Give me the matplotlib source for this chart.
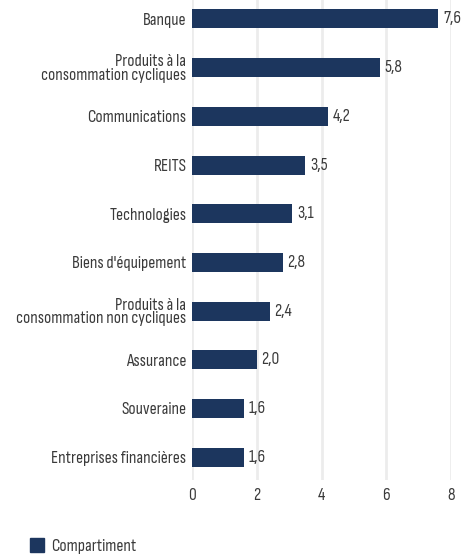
import matplotlib.pyplot as plt
from matplotlib.patches import Patch

categories = [
    "Banque",
    "Produits à la\nconsommation cycliques",
    "Communications",
    "REITS",
    "Technologies",
    "Biens d'équipement",
    "Produits à la\nconsommation non cycliques",
    "Assurance",
    "Souveraine",
    "Entreprises financières",
]
values = [7.6, 5.8, 4.2, 3.5, 3.1, 2.8, 2.4, 2.0, 1.6, 1.6]
xticks = [0, 2, 4, 6, 8]
series_name = "Compartiment"

NAVY = "#1c365e"
TEXT = "#3a3a3a"
FS = 12.5

plt.rcParams["font.family"] = ["Sofia Sans Condensed", "Roboto Condensed", "DejaVu Sans"]
plt.rcParams["font.weight"] = "light"

W, H = 471, 557
fig = plt.figure(figsize=(W / 100, H / 100), dpi=100)
ax = fig.add_axes([192 / W, 1 - 480 / H, (451 - 192) / W, 480 / H])

pos = list(range(len(categories)))
ax.barh(pos, values, height=0.39, color=NAVY, zorder=3)
for p, v in zip(pos, values):
    ax.text(v + 0.15, p, f"{v:.1f}".replace(".", ","), va="center", ha="left",
            fontsize=FS, color=TEXT)

ax.set_xlim(0, 8)
ax.set_ylim(9.47, -0.39)
ax.set_xticks(xticks)
ax.set_xticklabels([str(t) for t in xticks])
ax.set_yticks(pos)
ax.set_yticklabels(categories, linespacing=0.9)
ax.tick_params(axis="both", length=0, labelsize=FS, colors=TEXT)
ax.tick_params(axis="y", pad=4)
ax.tick_params(axis="x", pad=6)
ax.grid(axis="x", color="#ececec", linewidth=2, zorder=0)
for s in ax.spines.values():
    s.set_visible(False)

fig.legend(handles=[Patch(color=NAVY, label=series_name)], loc="lower left",
           bbox_to_anchor=(14 / W, -0.022), frameon=False, fontsize=FS,
           handlelength=0.85, handleheight=0.85, handletextpad=0.4,
           labelcolor=TEXT)

fig.savefig("out.png", dpi=100)
